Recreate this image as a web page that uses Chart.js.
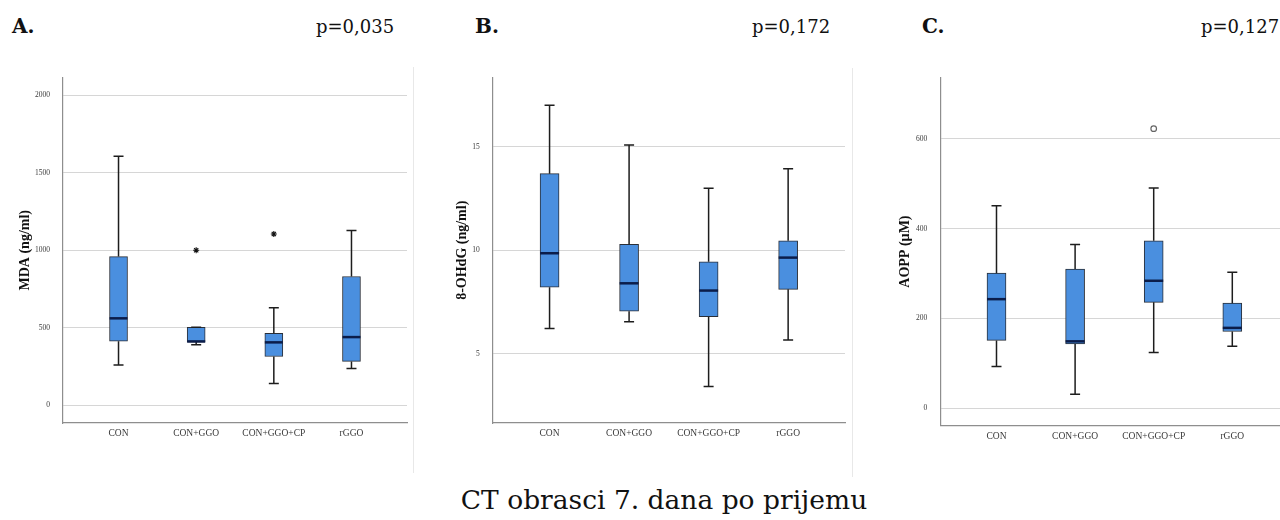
<!DOCTYPE html>
<html>
<head>
<meta charset="utf-8">
<title>CT obrasci 7. dana po prijemu</title>
<script src="https://cdn.jsdelivr.net/npm/chart.js@4.4.0/dist/chart.umd.min.js"></script>
<style>
  html, body { margin: 0; padding: 0; background: #fff; overflow: hidden; }
  body { width: 1280px; height: 520px; position: relative; font-family: "DejaVu Serif", serif; color: #111; }
  .panel { position: absolute; top: 60px; height: 420px; }
  .frame { position: absolute; width: 1px; background: #e8e8e8; }
  .tag { position: absolute; top: 16px; font-size: 20px; line-height: 20px; font-weight: bold; white-space: nowrap; }
  .pval { position: absolute; top: 18px; font-size: 18px; line-height: 18px; white-space: nowrap; }
  #caption { position: absolute; top: 487px; left: 664px; transform: translateX(-50%); font-size: 26.5px; line-height: 26px; white-space: nowrap; }
</style>
</head>
<body>
<div class="tag" style="left:12px">A.</div>
<div class="pval" style="left:316px">p=0,035</div>
<div class="tag" style="left:475px">B.</div>
<div class="pval" style="left:752px">p=0,172</div>
<div class="tag" style="left:922px">C.</div>
<div class="pval" style="left:1201px">p=0,127</div>

<div class="frame" style="left:413px; top:67px; height:406px"></div>
<div class="frame" style="left:852px; top:68px; height:409px"></div>

<div class="panel" style="left:0px"><canvas id="mda" width="413" height="420"></canvas></div>
<div class="panel" style="left:420px"><canvas id="ohdg" width="432" height="420"></canvas></div>
<div class="panel" style="left:860px"><canvas id="aopp" width="440" height="420"></canvas></div>

<div id="caption">CT obrasci 7. dana po prijemu</div>

<script>
const categories = ['CON', 'CON+GGO', 'CON+GGO+CP', 'rGGO'];

// A. MDA (ng/ml)
const mdaLow = [260, 391, 141, 237];
const mdaQ1 = [413, 408, 315, 283];
const mdaMedian = [561, 412, 406, 440];
const mdaQ3 = [959, 503, 465, 831];
const mdaHigh = [1606, 503, 630, 1127];
const mdaOutlierCat = [1, 2];
const mdaOutlierVal = [1000, 1105];
const mdaTicks = [0, 500, 1000, 1500, 2000];

// B. 8-OHdG (ng/ml)
const ohdgLow = [6.23, 6.55, 3.43, 5.67];
const ohdgQ1 = [8.22, 7.06, 6.80, 8.12];
const ohdgMedian = [9.86, 8.41, 8.06, 9.65];
const ohdgQ3 = [13.70, 10.29, 9.45, 10.46];
const ohdgHigh = [17.0, 15.08, 13.0, 13.94];
const ohdgTicks = [5, 10, 15];

// C. AOPP (µM)
const aoppLow = [93, 31, 124, 138];
const aoppQ1 = [151, 143, 236, 171];
const aoppMedian = [243, 149, 284, 179];
const aoppQ3 = [301, 310, 373, 234];
const aoppHigh = [451, 365, 491, 303];
const aoppOutlierCat = [2];
const aoppOutlierVal = [623];
const aoppTicks = [0, 200, 400, 600];

// whiskers, caps and median lines on top of the floating bars
const boxWhiskers = {
  id: 'boxWhiskers',
  afterDatasetsDraw(chart, args, opts) {
    const { ctx, scales: { x, y } } = chart;
    const half = opts.boxWidth / 2;
    const cap = opts.capWidth / 2;
    ctx.save();
    opts.median.forEach((m, i) => {
      const cx = x.getPixelForValue(i);
      const yLo = y.getPixelForValue(opts.low[i]);
      const yQ1 = y.getPixelForValue(opts.q1[i]);
      const yQ3 = y.getPixelForValue(opts.q3[i]);
      const yHi = y.getPixelForValue(opts.high[i]);
      ctx.strokeStyle = '#1d1d1d';
      ctx.lineWidth = 1.5;
      ctx.beginPath();
      ctx.moveTo(cx, yQ3); ctx.lineTo(cx, yHi);
      ctx.moveTo(cx, yQ1); ctx.lineTo(cx, yLo);
      ctx.moveTo(cx - cap, yHi); ctx.lineTo(cx + cap, yHi);
      ctx.moveTo(cx - cap, yLo); ctx.lineTo(cx + cap, yLo);
      ctx.stroke();
      const yM = y.getPixelForValue(m);
      ctx.strokeStyle = '#0b1d4a';
      ctx.lineWidth = 2.5;
      ctx.beginPath();
      ctx.moveTo(cx - half, yM); ctx.lineTo(cx + half, yM);
      ctx.stroke();
    });
    ctx.restore();
  }
};

function makePanel(id, p) {
  const boxes = categories.map((c, i) => ({ x: i, y: [p.q1[i], p.q3[i]] }));
  const outliers = (p.outCat || []).map((c, i) => ({ x: c, y: p.outVal[i] }));
  const star = p.outStyle === 'star';
  return new Chart(document.getElementById(id), {
    type: 'bar',
    data: {
      datasets: [{
        data: boxes,
        backgroundColor: '#4a8fdf',
        borderColor: '#2a2f38',
        borderWidth: 1,
        borderSkipped: false,
        barThickness: p.boxWidth
      }, {
        type: 'scatter',
        data: outliers,
        pointStyle: p.outStyle,
        radius: star ? 3 : 2.8,
        borderWidth: star ? 1.1 : 1.2,
        borderColor: star ? '#111' : '#666',
        backgroundColor: star ? '#111' : 'rgba(0,0,0,0)'
      }]
    },
    options: {
      responsive: false,
      animation: false,
      layout: { padding: { top: p.padTop, right: p.padRight, left: 0, bottom: 0 } },
      plugins: {
        legend: { display: false },
        tooltip: { enabled: false },
        boxWhiskers: {
          low: p.low, q1: p.q1, median: p.median, q3: p.q3, high: p.high,
          boxWidth: p.boxWidth, capWidth: 10
        }
      },
      scales: {
        x: {
          type: 'linear',
          min: -0.715,
          max: 3.715,
          offset: false,
          grid: { offset: false, color: 'rgba(0,0,0,0)', drawTicks: false },
          border: { display: true, color: '#8e8e8e', width: 1.2 },
          afterBuildTicks: (axis) => { axis.ticks = categories.map((c, i) => ({ value: i })); },
          afterFit: (scale) => { scale.height = p.xHeight; },
          ticks: {
            autoSkip: false,
            maxRotation: 0,
            padding: 5,
            color: '#3a3a3a',
            font: { family: 'Liberation Serif', size: 9.5 },
            callback: (v) => categories[v]
          }
        },
        y: {
          min: p.min,
          max: p.max,
          grid: { color: '#d6d6d6', lineWidth: 1, drawTicks: false },
          border: { display: true, color: '#8e8e8e', width: 1.2 },
          afterBuildTicks: (axis) => { axis.ticks = p.ticks.map(v => ({ value: v })); },
          afterFit: (scale) => { scale.width = p.yWidth; },
          ticks: {
            padding: 13,
            color: '#3a3a3a',
            font: { family: 'Liberation Serif', size: 7.5 },
            callback: (v) => String(v)
          },
          title: {
            display: true,
            text: p.title,
            color: '#111',
            font: { family: 'Liberation Serif', size: 14, weight: 'bold' },
            padding: { top: p.titlePad, bottom: 0 }
          }
        }
      }
    },
    plugins: [boxWhiskers]
  });
}

makePanel('mda', {
  low: mdaLow, q1: mdaQ1, median: mdaMedian, q3: mdaQ3, high: mdaHigh,
  outCat: mdaOutlierCat, outVal: mdaOutlierVal, outStyle: 'star',
  ticks: mdaTicks, min: -114, max: 2114, title: 'MDA (ng/ml)',
  boxWidth: 18, padTop: 12, padRight: 6, yWidth: 63, xHeight: 57, titlePad: 16.6
});

makePanel('ohdg', {
  low: ohdgLow, q1: ohdgQ1, median: ohdgMedian, q3: ohdgQ3, high: ohdgHigh,
  ticks: ohdgTicks, min: 1.67, max: 18.34, title: '8-OHdG (ng/ml)',
  boxWidth: 19, padTop: 14, padRight: 7, yWidth: 72.7, xHeight: 57, titlePad: 34.1
});

makePanel('aopp', {
  low: aoppLow, q1: aoppQ1, median: aoppMedian, q3: aoppQ3, high: aoppHigh,
  outCat: aoppOutlierCat, outVal: aoppOutlierVal, outStyle: 'circle',
  ticks: aoppTicks, min: -39, max: 737, title: 'AOPP (µM)',
  boxWidth: 19, padTop: 16, padRight: 11.5, yWidth: 80.3, xHeight: 54.3, titlePad: 37.4
});
</script>
</body>
</html>
